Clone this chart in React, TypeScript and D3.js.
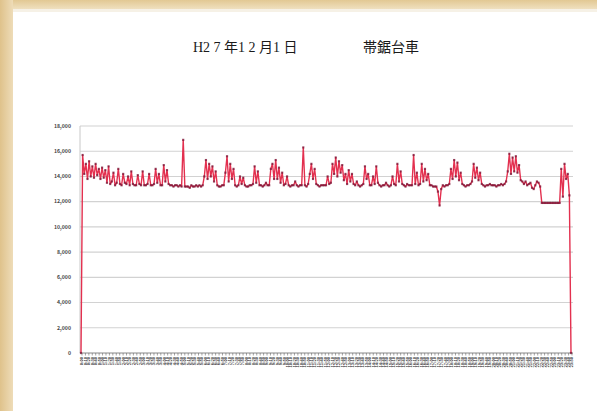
import React from "react";
import * as d3 from "d3";

const TITLE_DATE = "H2 7 年1 2 月1 日";
const TITLE_NAME = "帯鋸台車";

const yTicks = [0, 2000, 4000, 6000, 8000, 10000, 12000, 14000, 16000, 18000];

// Load readings (kg) across the day, sampled at a fixed interval
const loadValues = [
  0, 15700, 14200, 15000, 13800, 15200, 14000, 14800, 13900, 15000, 14100, 14600, 13800, 14700, 13900,
  14500, 13500, 14800, 13400, 13600, 14300, 13300, 13500, 14600, 13400, 13300, 14200, 13500, 13400, 14000,
  13300, 14400, 13400, 13300, 13300, 14100, 13400, 13300, 14400, 13300, 13300, 13400, 14200, 13300, 13300,
  13400, 14600, 13500, 14200, 13300, 13300, 14900, 13600, 14500, 13400, 13300, 13300, 13200, 13300, 13300,
  13200, 13300, 13200, 16900, 13200, 13200, 13200, 13100, 13300, 13200, 13200, 13300, 13200, 13300, 13200,
  13300, 14000, 15300, 13800, 15000, 14000, 14800, 13600, 14400, 13300, 13200, 13200, 13300, 13300, 14300,
  15600, 13600, 15000, 13800, 14600, 13300, 13200, 13300, 14000, 13400, 13900, 13300, 13200, 13200, 13300,
  13300, 13400, 14800, 13500, 14400, 13300, 13300, 13200, 13300, 13500, 13300, 13300, 14600, 15000, 13800,
  15300, 13800, 14700, 13500, 14300, 13300, 13400, 14000, 13300, 13200, 13300, 13300, 13600, 13300, 13200,
  13300, 13300, 16300, 13300, 13200, 13400, 14200, 15000, 13800, 14600, 13400, 13300, 13200, 13300, 13300,
  13300, 13300, 14000, 13400, 13500, 15000, 14200, 15500, 14000, 15200, 14300, 14900, 13700, 14200, 13400,
  14500, 13600, 14200, 13400, 13300, 13600, 13300, 13200, 13300, 13400, 14800, 13800, 14200, 13300, 13300,
  14000, 13400, 14800, 13500, 13300, 13200, 13300, 13300, 13500, 13300, 13200, 13300, 14000, 13400, 13300,
  15000, 13600, 14400, 13400, 13300, 13200, 13400, 13300, 13300, 13300, 15700, 13400, 14300, 13300, 13400,
  15000, 13600, 14600, 13700, 14200, 13300, 13300, 13200, 13200, 13200, 12800, 11700, 13000, 13300, 13200,
  13300, 13300, 13400, 14600, 13800, 15300, 14000, 15100, 13700, 14300, 13400, 13300, 13200, 13300, 13300,
  13400, 13600, 15000, 13900, 14700, 13700, 14300, 13400, 13300, 13200, 13300, 13300, 13400, 13300, 13300,
  13300, 13200, 13300, 13300, 13400, 13300, 13400, 13600, 14400, 15800, 14200, 15500, 14400, 15600, 14300,
  14900, 13700, 13600, 13400, 13600, 13300, 13400, 13500, 13100, 13000, 13300, 13600, 13500, 13200, 11900,
  11900, 11900, 11900, 11900, 11900, 11900, 11900, 11900, 11900, 11900, 11900, 14600, 12400, 15000, 13800,
  14200, 12500, 0,
];

// Time-of-day category labels, every 10 minutes
const timeLabels: string[] = [];
for (let h = 0; h < 24; h++) {
  for (let m = 0; m < 60; m += 10) {
    timeLabels.push(`${h}:${m === 0 ? "00" : m}`);
  }
}

const W = 597;
const H = 411;
const M = { left: 80, right: 571, top: 126, bottom: 353 };

export default function App() {
  const x = d3
    .scaleLinear()
    .domain([0, loadValues.length - 1])
    .range([M.left + 1, M.right]);
  const y = d3.scaleLinear().domain([0, 18000]).range([M.bottom, M.top]);
  const xl = d3
    .scalePoint<string>()
    .domain(timeLabels)
    .range([M.left + 2, M.right + 1]);
  const fmt = d3.format(",");

  const line = d3
    .line<number>()
    .x((_, i) => x(i))
    .y((d) => y(d));

  return (
    <svg
      width={W}
      height={H}
      style={{ position: "absolute", left: 0, top: 0, display: "block" }}
      fontFamily="'Noto Sans CJK JP', 'DejaVu Sans', sans-serif"
    >
      <defs>
        <linearGradient id="frameTop" x1="0" y1="0" x2="0" y2="1">
          <stop offset="0" stopColor="#e2c893" />
          <stop offset="1" stopColor="#efe0bf" />
        </linearGradient>
        <linearGradient id="frameLeft" x1="0" y1="0" x2="1" y2="0">
          <stop offset="0" stopColor="#dfc28b" />
          <stop offset="1" stopColor="#eedcb8" />
        </linearGradient>
      </defs>
      <rect x={0} y={0} width={W} height={H} fill="#ffffff" />
      <rect x={0} y={0} width={W} height={9} fill="url(#frameTop)" />
      <rect x={0} y={0} width={13} height={H} fill="url(#frameLeft)" />
      <rect x={13} y={9} width={W - 13} height={3} fill="#f6f1e6" />

      <g
        fontSize={14}
        fill="#1a1a1a"
        fontFamily="'Liberation Serif', 'Noto Sans CJK JP', serif"
      >
        <text x={193} y={52}>
          {TITLE_DATE}
        </text>
        <text x={363} y={52} fontFamily="'Noto Sans CJK JP', sans-serif">
          {TITLE_NAME}
        </text>
      </g>

      {/* gridlines */}
      {yTicks.map((t) => (
        <line
          key={t}
          x1={M.left}
          x2={M.right + 2}
          y1={y(t)}
          y2={y(t)}
          stroke={t === 0 ? "#8a8a8a" : "#d2d2d2"}
          strokeWidth={t === 0 ? 1.2 : 1.1}
        />
      ))}
      <line x1={M.left} x2={M.left} y1={M.top} y2={M.bottom} stroke="#c8c8c8" />

      {/* y tick labels */}
      {yTicks.map((t) => (
        <text
          key={"l" + t}
          x={M.left - 9}
          y={y(t) + 1.8}
          textAnchor="end"
          fontSize={5.2}
          fontWeight="bold"
          fill="#444"
        >
          {fmt(t)}
        </text>
      ))}

      {/* x ticks and labels */}
      {timeLabels.map((t) => (
        <g key={t}>
          <line
            x1={xl(t)}
            x2={xl(t)}
            y1={M.bottom}
            y2={M.bottom + 2.5}
            stroke="#666"
            strokeWidth={0.6}
          />
          <text
            transform={`translate(${(xl(t) as number) + 1.4},${M.bottom + 4}) rotate(-90)`}
            textAnchor="end"
            fontSize={3.9}
            fontWeight="bold"
            fill="#333"
          >
            {t}
          </text>
        </g>
      ))}

      {/* load line */}
      <path
        d={line(loadValues) ?? ""}
        fill="none"
        stroke="#e3304f"
        strokeWidth={1.4}
        strokeLinejoin="round"
      />
      {loadValues.map((v, i) => (
        <rect
          key={i}
          x={x(i) - 1.1}
          y={y(v) - 1.1}
          width={2.2}
          height={2.2}
          fill="#7a1a3a"
          opacity={0.75}
        />
      ))}
    </svg>
  );
}
